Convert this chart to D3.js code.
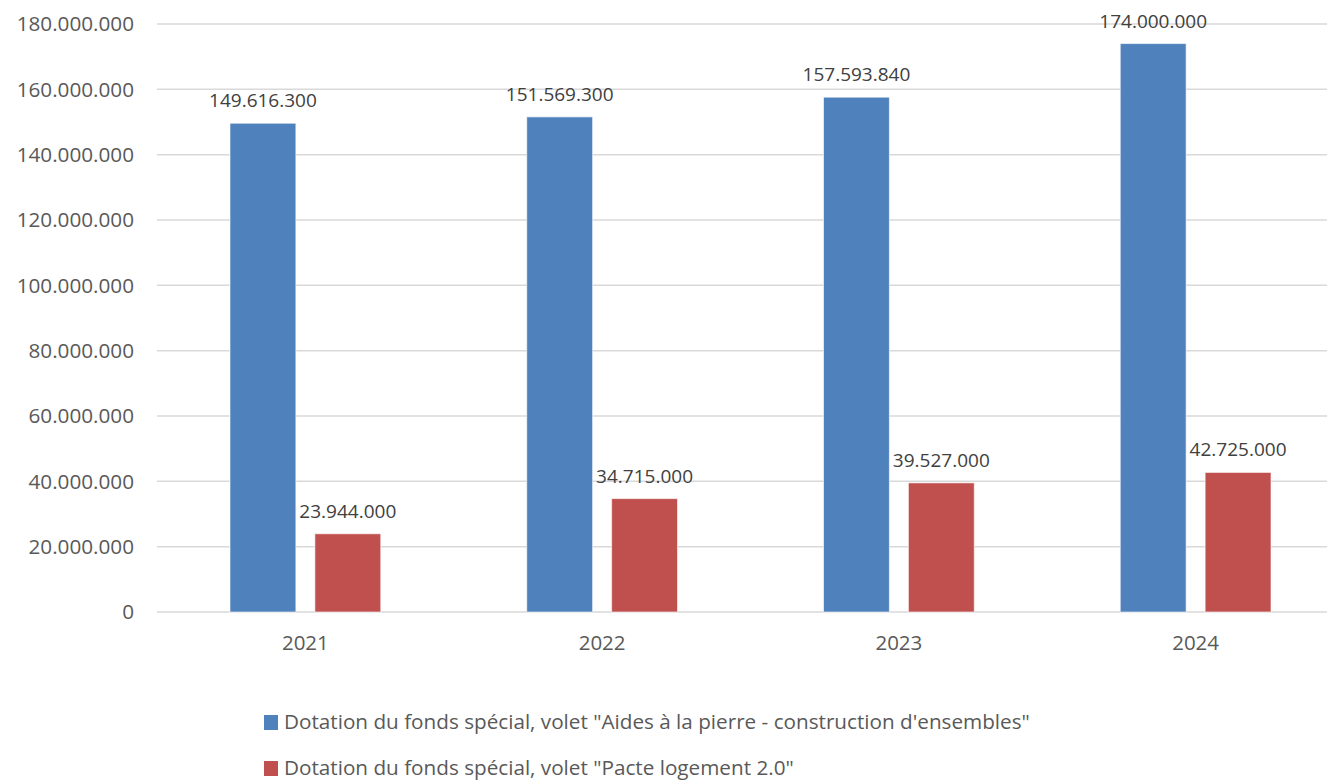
<!DOCTYPE html>
<html>
<head>
<meta charset="utf-8">
<script src="https://cdn.jsdelivr.net/npm/d3@7"></script>
<style>
  body { margin: 0; background: #fff; }
  text { font-family: "Open Sans", sans-serif; }
</style>
</head>
<body>
<div id="chart"></div>
<script>
// data
var years = ["2021", "2022", "2023", "2024"];
var seriesNames = [
  "Dotation du fonds spécial, volet \"Aides à la pierre - construction d'ensembles\"",
  "Dotation du fonds spécial, volet \"Pacte logement 2.0\""
];
var aidesPierre = [149616300, 151569300, 157593840, 174000000];
var pacteLogement = [23944000, 34715000, 39527000, 42725000];
var yTicks = [0, 20000000, 40000000, 60000000, 80000000, 100000000, 120000000, 140000000, 160000000, 180000000];
var colors = ["#4F81BD", "#C0504D"];

var W = 1327, H = 781;
var margin = {top: 24, left: 157, bottom: 169};
var plotRight = 1344;

var svg = d3.select("#chart").append("svg")
  .attr("width", W)
  .attr("height", H);

var fmt = function(v) {
  return String(v).replace(/\B(?=(\d{3})+(?!\d))/g, ".");
};

var x = d3.scaleBand()
  .domain(years)
  .range([margin.left, plotRight]);

var xInner = d3.scaleBand()
  .domain([0, 1])
  .range([73, x.bandwidth() - 73])
  .paddingInner(0.224);

var y = d3.scaleLinear()
  .domain([0, 180000000])
  .range([H - margin.bottom, margin.top]);

// gridlines
svg.append("g")
  .selectAll("line")
  .data(yTicks)
  .enter()
  .append("line")
    .attr("x1", margin.left)
    .attr("x2", W)
    .attr("y1", function(d) { return y(d); })
    .attr("y2", function(d) { return y(d); })
    .attr("stroke", "#D9D9D9")
    .attr("stroke-width", 1.5);

// y axis labels
svg.append("g")
  .selectAll("text")
  .data(yTicks)
  .enter()
  .append("text")
    .attr("x", 134)
    .attr("y", function(d) { return y(d); })
    .attr("dy", "0.36em")
    .attr("text-anchor", "end")
    .attr("font-size", "20.7px")
    .attr("fill", "#595959")
    .text(function(d) { return fmt(d); });

// x axis labels
svg.append("g")
  .selectAll("text")
  .data(years)
  .enter()
  .append("text")
    .attr("x", function(d) { return x(d) + x.bandwidth() / 2; })
    .attr("y", 643)
    .attr("dy", "0.36em")
    .attr("text-anchor", "middle")
    .attr("font-size", "20.5px")
    .attr("fill", "#595959")
    .text(function(d) { return d; });

var series = [aidesPierre, pacteLogement];

series.forEach(function(vals, s) {
  var g = svg.append("g");
  g.selectAll("rect")
    .data(vals)
    .enter()
    .append("rect")
      .attr("x", function(d, i) { return x(years[i]) + xInner(s); })
      .attr("y", function(d) { return y(d); })
      .attr("width", xInner.bandwidth())
      .attr("height", function(d) { return y(0) - y(d); })
      .attr("fill", colors[s])
      .attr("stroke", "#ffffff")
      .attr("stroke-opacity", 0.6)
      .attr("stroke-width", 1);

  // value labels
  g.selectAll("text")
    .data(vals)
    .enter()
    .append("text")
      .attr("x", function(d, i) { return x(years[i]) + xInner(s) + xInner.bandwidth() / 2; })
      .attr("y", function(d) { return y(d) - 16; })
      .attr("text-anchor", "middle")
      .attr("font-size", "19px")
      .attr("fill", "#404040")
      .text(function(d) { return fmt(d); });
});

// legend
var legend = svg.append("g");
seriesNames.forEach(function(name, i) {
  var ly = 722 + i * 46;
  legend.append("rect")
    .attr("x", 264)
    .attr("y", ly - 7)
    .attr("width", 14)
    .attr("height", 15)
    .attr("fill", colors[i]);
  legend.append("text")
    .attr("x", 284)
    .attr("y", ly)
    .attr("dy", "0.36em")
    .attr("font-size", "20.7px")
    .attr("fill", "#595959")
    .text(name);
});
</script>
</body>
</html>
